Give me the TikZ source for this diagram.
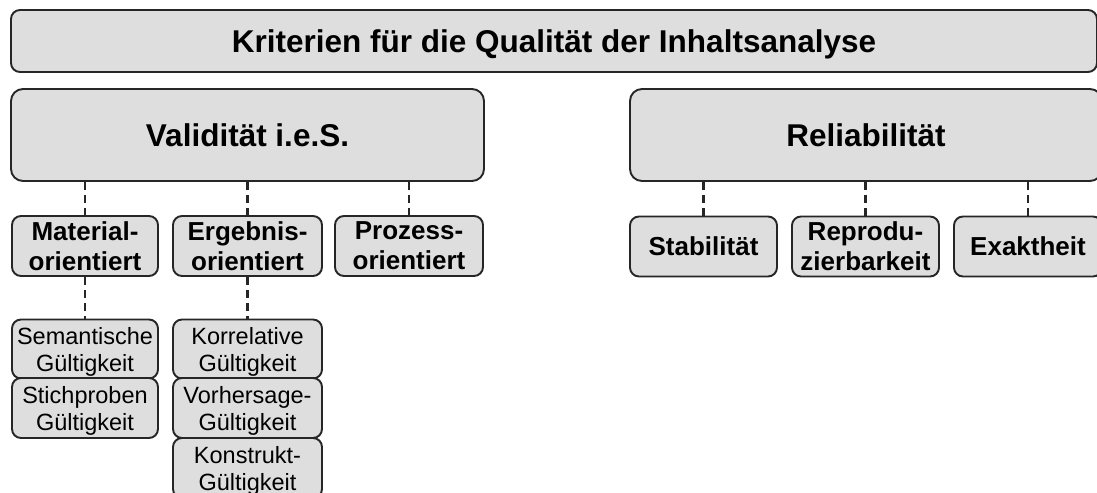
\documentclass[tikz,border=0pt]{standalone}
\usepackage{fontspec}
\setmainfont{Liberation Sans}
\definecolor{boxgray}{HTML}{DEDEDE}
\definecolor{edgegray}{HTML}{262626}
\begin{document}
\begin{tikzpicture}[x=1bp,y=-1bp,
  box/.style={draw=edgegray, line width=1.9bp, fill=boxgray, inner sep=0pt,
              align=center, text=black, text depth=0bp},
  bigbox/.style={box, rounded corners=12bp, minimum height=92bp,
                 font=\fontsize{31.5bp}{36bp}\selectfont\bfseries},
  titlebox/.style={box, rounded corners=9bp, minimum height=62bp,
                 font=\fontsize{31.5bp}{36bp}\selectfont\bfseries},
  subbox/.style={box, rounded corners=9bp, minimum height=60bp,
                 font=\fontsize{26bp}{30bp}\selectfont\bfseries},
  leafbox/.style={box, rounded corners=9bp, minimum height=59bp, minimum width=146bp,
                 font=\fontsize{23.5bp}{27bp}\selectfont},
  link/.style={draw=edgegray, line width=2.2bp, dash pattern=on 8bp off 5bp}
]
\useasboundingbox (0,0) rectangle (1097,493);
\clip (0,0) rectangle (1097,493);

% top level
\node[titlebox, minimum width=1086bp] (top) at (554,41) {Kriterien für die Qualität der Inhaltsanalyse};

% main criteria
\node[bigbox, minimum width=473bp] (valid) at (247.5,135) {Validität i.e.S.};
\node[bigbox, minimum width=472bp] (rel) at (866,135) {Reliabilität};

% validity branches
\node[subbox, minimum width=146bp] (mat) at (85,246) {Material-\\orientiert};
\node[subbox, minimum width=149bp] (erg) at (247.5,246) {Ergebnis-\\orientiert};
\node[subbox, minimum width=148bp] (proz) at (409,246) {Prozess-\\orientiert};

% reliability branches
\node[subbox, minimum width=147bp] (stab) at (703.5,246.5) {Stabilität};
\node[subbox, minimum width=147bp] (repro) at (865.5,246.5) {Reprodu-\\zierbarkeit};
\node[subbox, minimum width=148bp] (exakt) at (1028,246.5) {Exaktheit};

% material-oriented validity
\node[leafbox] (sem) at (85,349) {Semantische\\Gültigkeit};
\node[leafbox, minimum height=60bp] (stich) at (85,408) {Stichproben\\Gültigkeit};

% result-oriented validity
\node[leafbox, minimum width=149bp] (korr) at (247.5,349) {Korrelative\\Gültigkeit};
\node[leafbox, minimum width=149bp, minimum height=60bp] (vorh) at (247.5,408) {Vorhersage-\\Gültigkeit};
\node[leafbox, minimum width=149bp, minimum height=60bp] (konst) at (247.5,468) {Konstrukt-\\Gültigkeit};

% dashed connectors
\draw[link] (valid.south -| mat.north) -- (mat.north);
\draw[link] (valid.south -| erg.north) -- (erg.north);
\draw[link] (valid.south -| proz.north) -- (proz.north);
\draw[link] (rel.south -| stab.north) -- (stab.north);
\draw[link] (rel.south -| repro.north) -- (repro.north);
\draw[link] (rel.south -| exakt.north) -- (exakt.north);
\draw[link] (mat.south) -- (sem.north);
\draw[link] (erg.south) -- (korr.north);
\end{tikzpicture}
\end{document}
